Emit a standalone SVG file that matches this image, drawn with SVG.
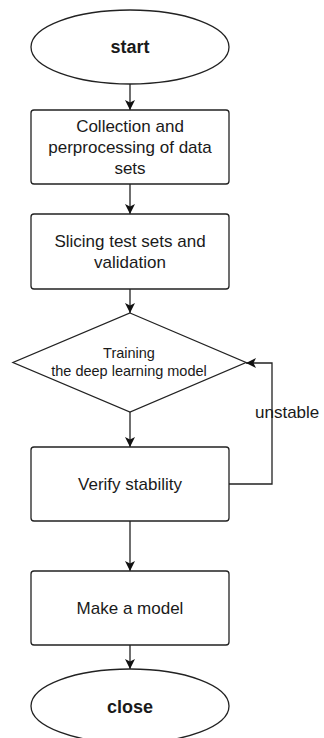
<svg xmlns="http://www.w3.org/2000/svg" width="324" height="738" viewBox="0 0 324 738">
  <style>
    .shape { fill: #ffffff; stroke: #222222; stroke-width: 1.3; }
    .edge { fill: none; stroke: #222222; stroke-width: 1.3; }
    .label { font-family: "Liberation Sans", Arial, sans-serif; font-size: 17px; fill: #1a1a1a; text-anchor: middle; }
    .small { font-size: 14.5px; }
    .bold { font-weight: bold; font-size: 18px; }
  </style>
  <defs>
    <marker id="arrow" markerWidth="11" markerHeight="11" refX="10" refY="5" orient="auto" markerUnits="userSpaceOnUse">
      <path d="M0,0 L10,5 L0,10 L2.5,5 Z" fill="#111111"/>
    </marker>
  </defs>
  <rect width="324" height="738" fill="#ffffff"/>

  <g id="connectors">
    <line class="edge" x1="130" y1="84" x2="130" y2="110" marker-end="url(#arrow)"/>
    <line class="edge" x1="130" y1="184" x2="130" y2="214" marker-end="url(#arrow)"/>
    <line class="edge" x1="130" y1="289" x2="130" y2="313" marker-end="url(#arrow)"/>
    <line class="edge" x1="130" y1="412" x2="130" y2="447" marker-end="url(#arrow)"/>
    <polyline class="edge" points="229,484 272,484 272,363 246,363" marker-end="url(#arrow)"/>
    <line class="edge" x1="130" y1="521" x2="130" y2="571" marker-end="url(#arrow)"/>
    <line class="edge" x1="130" y1="645" x2="130" y2="669" marker-end="url(#arrow)"/>
    <text class="label" x="255" y="418" style="text-anchor:start">unstable</text>
  </g>

  <g id="start">
    <ellipse class="shape" cx="130" cy="47" rx="99" ry="37"/>
    <text class="label bold" x="130" y="53">start</text>
  </g>

  <g id="collect">
    <rect class="shape" x="31" y="110" width="198" height="74" rx="3"/>
    <text class="label" x="130" y="132">Collection and</text>
    <text class="label" x="130" y="153">perprocessing of data</text>
    <text class="label" x="130" y="174">sets</text>
  </g>

  <g id="slice">
    <rect class="shape" x="31" y="214" width="198" height="75" rx="3"/>
    <text class="label" x="130" y="247">Slicing test sets and</text>
    <text class="label" x="130" y="268">validation</text>
  </g>

  <g id="train">
    <polygon class="shape" points="130,313 246,362.5 130,412 13,362.5"/>
    <text class="label small" x="129" y="358">Training</text>
    <text class="label small" x="129" y="376">the deep learning model</text>
  </g>

  <g id="verify">
    <rect class="shape" x="31" y="447" width="198" height="74" rx="3"/>
    <text class="label" x="130" y="490">Verify stability</text>
  </g>

  <g id="make">
    <rect class="shape" x="31" y="571" width="198" height="74" rx="3"/>
    <text class="label" x="130" y="614">Make a model</text>
  </g>

  <g id="close">
    <ellipse class="shape" cx="130" cy="706" rx="99" ry="37"/>
    <text class="label bold" x="130" y="713">close</text>
  </g>
</svg>
